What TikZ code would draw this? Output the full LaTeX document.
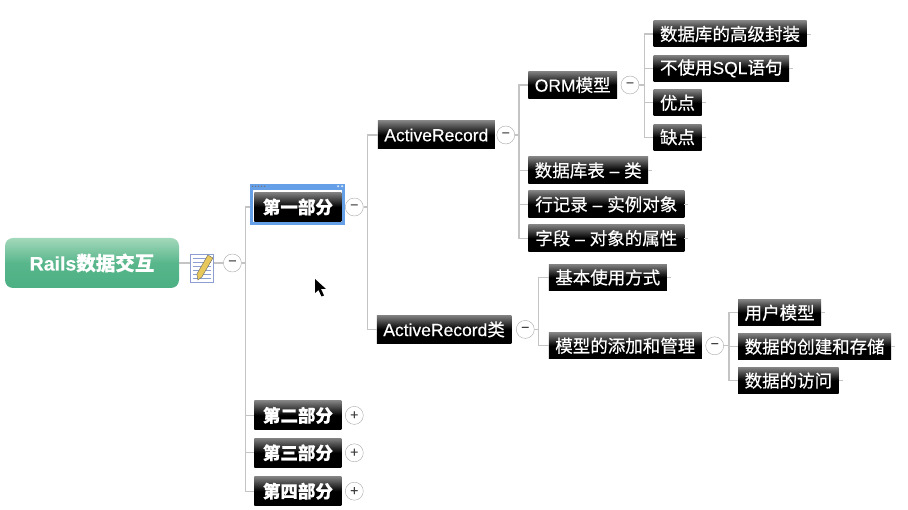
\documentclass[tikz,border=0pt]{standalone}
\usepackage{fontspec}
\setmainfont{Noto Sans CJK SC}[FakeBold=0.5]
\newfontfamily\latinfont{Liberation Sans}[FakeBold=0.3]
\usetikzlibrary{arrows.meta, positioning, calc}
\definecolor{linkgray}{HTML}{C4C4C4}
\definecolor{foldgray}{HTML}{A8A8A8}
\definecolor{selblue}{HTML}{659FE8}
\definecolor{rootlight}{HTML}{A3D8BB}
\definecolor{rootdark}{HTML}{4BB083}
\definecolor{notelines}{HTML}{8C9FD0}
\definecolor{pencil}{HTML}{E8C85A}

\begin{document}
\begin{tikzpicture}[
    x=1pt, y=1pt,
    root/.style={
        rectangle, rounded corners=8pt, top color=rootlight, bottom color=rootdark,
        middle color=rootdark!85!rootlight, text=white,
        minimum width=174pt, minimum height=50pt, inner sep=0pt,
        font=\fontsize{19.5}{22}\selectfont\bfseries
    },
    topic/.style={
        rectangle, top color=black!50, bottom color=black, middle color=black,
        text=white, inner xsep=6.5pt, inner ysep=0pt,
        minimum height=26pt, font=\fontsize{17.5}{20}\selectfont
    },
    part/.style={topic, minimum height=29pt, inner xsep=8.5pt, font=\fontsize{17.5}{20}\selectfont\bfseries},
    foldmark/.style={
        circle, draw=foldgray, fill=white, minimum size=18pt, inner sep=0pt,
        font=\fontsize{14}{14}\selectfont\latinfont, text=black!75
    },
    link/.style={draw=linkgray, line width=1.3pt},
]
\useasboundingbox (0,0) rectangle (908,-510);

\node[root] (root) at (92,-263) {{\latinfont Rails}数据交互};
\node[rectangle, draw=notelines, fill=white, minimum width=23pt, minimum height=28pt, inner sep=0pt,
      right=11pt of root, yshift=-5pt] (noteicon) {};
\node[foldmark, right=44pt of root] (rootfold) {−};

% note icon
\begin{scope}[shift={(noteicon.center)}]
\foreach \ly in {-10,-6,-2,2,6,10}
    \draw[notelines, line width=0.8pt] (-9,\ly) -- (9,\ly);
\fill[pencil, draw=black!60, line width=0.4pt] (-4,-12) -- (-5,-6) -- (6,13) -- (11,10) -- (0,-9) -- cycle;
\end{scope}

% first level
\node[part, right=75pt of root, yshift=56pt] (partone) {第一部分};
\node[rectangle, draw=selblue, line width=3pt, minimum width=92.5pt, minimum height=38.5pt,
      at=(partone), yshift=2.5pt, xshift=-0.5pt] (selframe) {};
\fill[selblue] (selframe.north west) rectangle ([yshift=-6pt]selframe.north east);
\foreach \dx in {3,6,9,12,15}
    \fill[black!55] ([xshift=\dx pt, yshift=-2.5pt]selframe.north west) circle (0.7pt);
\foreach \dx in {-7,-3}
    \fill[white!70!selblue] ([xshift=\dx pt, yshift=-2.5pt]selframe.north east) circle (1.2pt);
\node[part, below right=179pt and 0pt of partone.south west] (parttwo) {第二部分};
\node[part, below right=8pt and 0pt of parttwo.south west] (partthree) {第三部分};
\node[part, below right=9pt and 0pt of partthree.south west] (partfour) {第四部分};

\node[foldmark, right=3.5pt of partone] (onefold) {−};
\node[foldmark, right=3.5pt of parttwo] (twofold) {+};
\node[foldmark, right=3.5pt of partthree] (threefold) {+};
\node[foldmark, right=3.5pt of partfour] (fourfold) {+};

% second level
\node[topic, minimum height=28pt, right=36pt of partone, yshift=72pt] (record) {{\latinfont ActiveRecord}};
\node[topic, minimum height=28pt, below right=166pt and -1pt of record.south west] (recordclass) {{\latinfont ActiveRecord}类};
\node[foldmark, right=1.5pt of record] (recordfold) {−};
\node[foldmark, right=4.5pt of recordclass] (classfold) {−};

% third level
\node[topic, minimum height=27pt, right=33pt of record, yshift=50pt] (orm) {{\latinfont ORM}模型};
\node[topic, minimum height=27pt, below right=58pt and 0pt of orm.south west] (tablenode) {数据库表{\latinfont\ – }类};
\node[topic, minimum height=27pt, minimum width=156pt, below right=6.5pt and 0pt of tablenode.south west] (rownode) {行记录{\latinfont\ – }实例对象};
\node[topic, minimum height=27pt, minimum width=156pt, below right=6.5pt and 0pt of rownode.south west] (fieldnode) {字段{\latinfont\ – }对象的属性};
\node[foldmark, right=3.5pt of orm] (ormfold) {−};

\node[topic, right=36pt of orm, yshift=51pt] (wrap) {数据库的高级封装};
\node[topic, below right=8pt and 0pt of wrap.south west] (nosql) {不使用{\latinfont SQL}语句};
\node[topic, below right=8pt and 0pt of nosql.south west] (merit) {优点};
\node[topic, below right=8pt and 0pt of merit.south west] (flaw) {缺点};

\node[topic, right=37pt of recordclass, yshift=52pt] (basic) {基本使用方式};
\node[topic, below right=42pt and 0pt of basic.south west] (model) {模型的添加和管理};
\node[foldmark, right=3.5pt of model] (modelfold) {−};

\node[topic, right=36pt of model, yshift=33pt] (user) {用户模型};
\node[topic, below right=7.5pt and 0pt of user.south west] (create) {数据的创建和存储};
\node[topic, below right=7.5pt and 0pt of create.south west] (access) {数据的访问};

% connectors
\draw[link] (root.east) -- (noteicon.west |- root.east);
\draw[link] (noteicon.east |- root.east) -- (rootfold.west);

\draw[link] (rootfold.east) -- ++(4,0) |- (selframe.west |- partone.west);
\draw[link] (rootfold.east) -- ++(4,0) |- (parttwo.west);
\draw[link] (rootfold.east) -- ++(4,0) |- (partthree.west);
\draw[link] (rootfold.east) -- ++(4,0) |- (partfour.west);

\draw[link] (onefold.east) -- ++(4,0) |- (record.west);
\draw[link] (onefold.east) -- ++(4,0) |- (recordclass.west);

\draw[link] (recordfold.east) -- ++(4,0) |- (orm.west);
\draw[link] (recordfold.east) -- ++(4,0) |- (tablenode.west);
\draw[link] (recordfold.east) -- ++(4,0) |- (rownode.west);
\draw[link] (recordfold.east) -- ++(4,0) |- (fieldnode.west);

\draw[link] (ormfold.east) -- ++(5,0) |- (wrap.west);
\draw[link] (ormfold.east) -- ++(5,0) |- (nosql.west);
\draw[link] (ormfold.east) -- ++(5,0) |- (merit.west);
\draw[link] (ormfold.east) -- ++(5,0) |- (flaw.west);

\draw[link] (classfold.east) -- ++(4,0) |- (basic.west);
\draw[link] (classfold.east) -- ++(4,0) |- (model.west);

\draw[link] (modelfold.east) -- ++(5,0) |- (user.west);
\draw[link] (modelfold.east) -- ++(5,0) |- (create.west);
\draw[link] (modelfold.east) -- ++(5,0) |- (access.west);

% short ends after the last topics
\foreach \leaf in {tablenode,rownode,fieldnode,wrap,nosql,merit,flaw,basic,user,create,access}
    \draw[linkgray, line width=0.8pt] (\leaf.east) -- ++(4,0);

% mouse pointer
\fill[black] (315,-279) -- (315,-293) -- (318.5,-290) -- (321.5,-296.5) -- (324,-295.5) -- (321,-289) -- (326,-289) -- cycle;

\end{tikzpicture}
\end{document}
